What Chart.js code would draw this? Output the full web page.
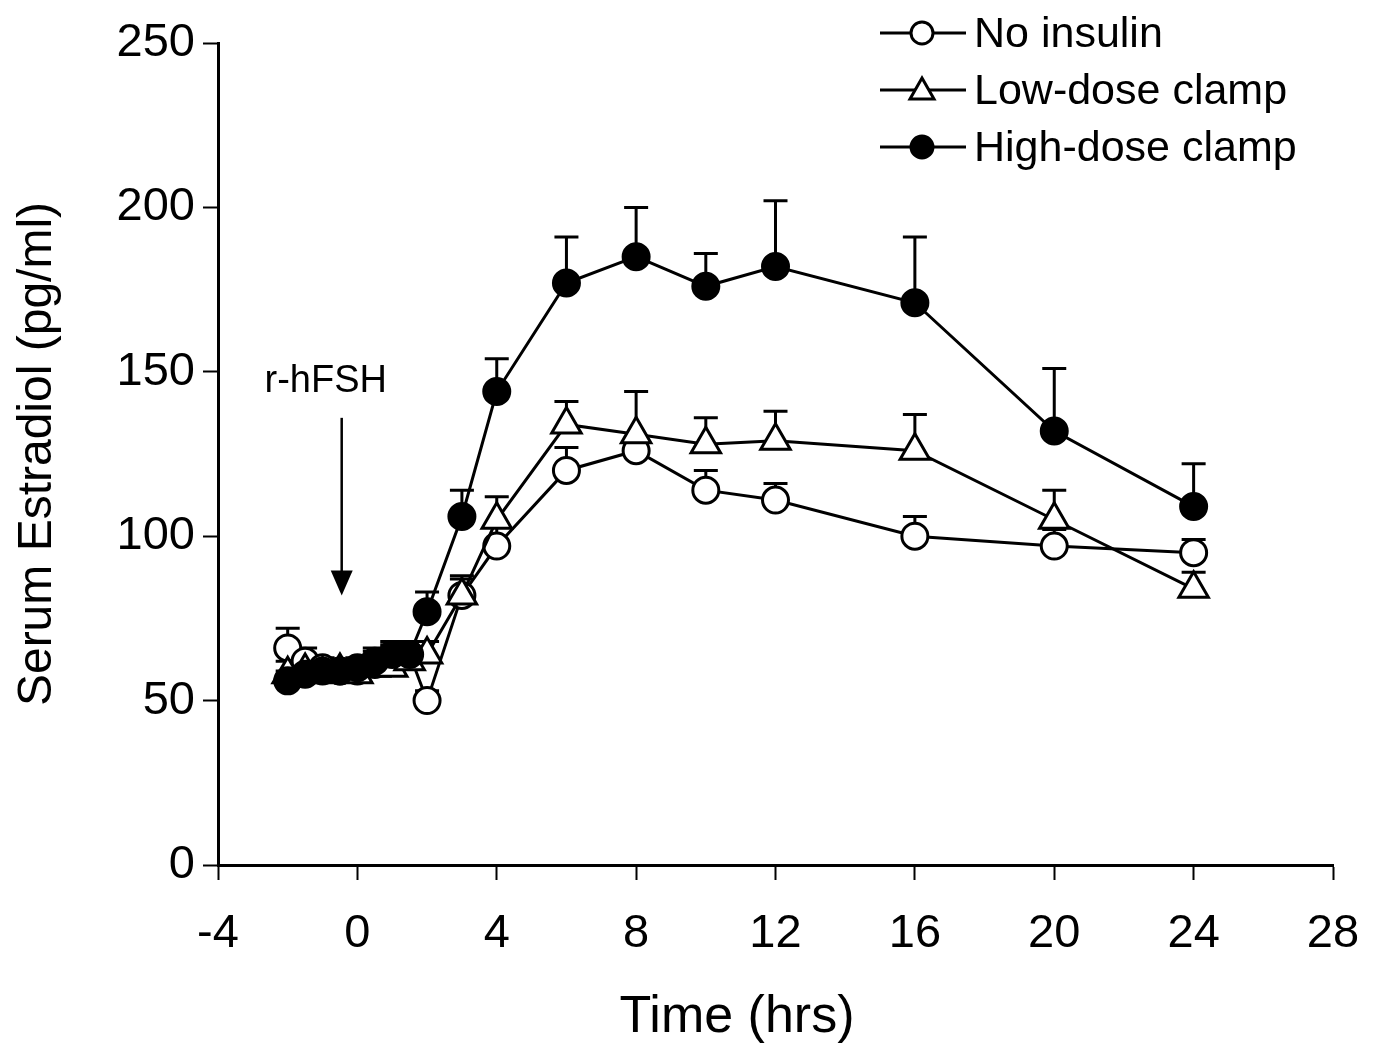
<!DOCTYPE html>
<html>
<head>
<meta charset="utf-8">
<script src="https://cdn.jsdelivr.net/npm/chart.js@4"></script>
<style>
  html, body { margin: 0; padding: 0; background: #fff; }
  #wrap { width: 1374px; height: 1046px; }
</style>
</head>
<body>
<div id="wrap"><canvas id="chart" width="1374" height="1046"></canvas></div>
<script>
// time points (hrs)
const times = [-2, -1.5, -1, -0.5, 0, 0.5, 1, 1.5, 2, 3, 4, 6, 8, 10, 12, 16, 20, 24];

// serum estradiol (pg/ml) and upper SEM bars
const noInsulin    = [66, 62, 60, 59, 59, 61, 63, 64, 50, 82, 97, 120, 126, 114, 111, 100, 97, 95];
const noInsulinErr = [6, 4, 3, 3, 3, 4, 4, 4, 3, 5, 6, 7, 3, 6, 5, 6, 5, 4];
const lowDose      = [58, 59, 58, 59, 58, 60, 60, 62, 64, 82, 105, 134, 131, 128, 129, 126, 105, 84];
const lowDoseErr   = [4, 3, 3, 3, 3, 4, 4, 4, 4, 6, 7, 7, 13, 8, 9, 11, 9, 5];
const highDose     = [56, 58, 59, 59, 60, 62, 64, 64, 77, 106, 144, 177, 185, 176, 182, 171, 132, 109];
const highDoseErr  = [3, 3, 3, 3, 3, 4, 4, 4, 6, 8, 10, 14, 15, 10, 20, 20, 19, 13];

const seriesNames = ['No insulin', 'Low-dose clamp', 'High-dose clamp'];
const xTicks = [-4, 0, 4, 8, 12, 16, 20, 24, 28];

// r-hFSH arrow (data coords)
const arrowX = -0.45, arrowTop = 136, arrowTip = 82;

const FONT = '"Liberation Sans", Arial, Helvetica, sans-serif';

function toPoints(vals) {
    return times.map((t, i) => ({ x: t, y: vals[i] }));
}

// draws upward error bars under the markers
const errorBars = {
    id: 'errorBars',
    beforeDatasetsDraw(chart) {
        const ctx = chart.ctx;
        const y = chart.scales.y;
        ctx.save();
        ctx.strokeStyle = '#000';
        ctx.lineWidth = 3;
        chart.data.datasets.forEach((ds, di) => {
            const meta = chart.getDatasetMeta(di);
            meta.data.forEach((pt, i) => {
                const top = y.getPixelForValue(ds.data[i].y + ds.errs[i]);
                ctx.beginPath();
                ctx.moveTo(pt.x, pt.y);
                ctx.lineTo(pt.x, top);
                ctx.moveTo(pt.x - 12, top);
                ctx.lineTo(pt.x + 12, top);
                ctx.stroke();
            });
        });
        ctx.restore();
    }
};

// legend, x title and the r-hFSH note
const extras = {
    id: 'extras',
    afterDraw(chart) {
        const ctx = chart.ctx;
        const xs = chart.scales.x, ys = chart.scales.y;
        ctx.save();
        ctx.fillStyle = '#000';
        ctx.strokeStyle = '#000';

        // arrow
        const ax = xs.getPixelForValue(arrowX);
        const aTop = ys.getPixelForValue(arrowTop);
        const aTip = ys.getPixelForValue(arrowTip);
        ctx.lineWidth = 2.5;
        ctx.beginPath();
        ctx.moveTo(ax, aTop);
        ctx.lineTo(ax, aTip - 20);
        ctx.stroke();
        ctx.beginPath();
        ctx.moveTo(ax - 11, aTip - 25);
        ctx.lineTo(ax + 11, aTip - 25);
        ctx.lineTo(ax, aTip);
        ctx.closePath();
        ctx.fill();
        ctx.font = '38px ' + FONT;
        ctx.textAlign = 'center';
        ctx.textBaseline = 'middle';
        ctx.fillText('r-hFSH', ax - 16, ys.getPixelForValue(147));

        // x axis title
        ctx.font = '52px ' + FONT;
        ctx.fillText('Time (hrs)', 737, 1018);

        // legend
        const rows = [33, 90, 147];
        ctx.font = '43px ' + FONT;
        ctx.textAlign = 'left';
        chart.data.datasets.forEach((ds, i) => {
            const yy = rows[i];
            ctx.lineWidth = 3;
            ctx.beginPath();
            ctx.moveTo(880, yy);
            ctx.lineTo(966, yy);
            ctx.stroke();
            ctx.fillStyle = ds.pointBackgroundColor;
            ctx.beginPath();
            if (ds.pointStyle === 'triangle') {
                ctx.moveTo(922, yy - 12);
                ctx.lineTo(934, yy + 9);
                ctx.lineTo(910, yy + 9);
                ctx.closePath();
            } else {
                ctx.arc(922, yy, 11, 0, Math.PI * 2);
            }
            ctx.fill();
            ctx.stroke();
            ctx.fillStyle = '#000';
            ctx.fillText(seriesNames[i], 974, yy + 2);
        });
        ctx.restore();
    }
};

const baseSet = {
    borderColor: '#000',
    borderWidth: 3,
    pointBorderColor: '#000',
    pointBorderWidth: 3,
    showLine: true,
    tension: 0
};

new Chart(document.getElementById('chart').getContext('2d'), {
    type: 'scatter',
    data: {
        datasets: [
            Object.assign({}, baseSet, {
                label: seriesNames[0], data: toPoints(noInsulin), errs: noInsulinErr,
                pointStyle: 'circle', pointRadius: 13, pointBackgroundColor: '#fff', order: 2
            }),
            Object.assign({}, baseSet, {
                label: seriesNames[1], data: toPoints(lowDose), errs: lowDoseErr,
                pointStyle: 'triangle', pointRadius: 17, pointBackgroundColor: '#fff', order: 1
            }),
            Object.assign({}, baseSet, {
                label: seriesNames[2], data: toPoints(highDose), errs: highDoseErr,
                pointStyle: 'circle', pointRadius: 13, pointBackgroundColor: '#000', order: 0
            })
        ]
    },
    options: {
        responsive: false,
        animation: false,
        layout: { padding: { top: 43, right: 41, bottom: 0, left: 0 } },
        plugins: {
            legend: { display: false },
            tooltip: { enabled: false }
        },
        scales: {
            x: {
                type: 'linear',
                min: -4, max: 28,
                afterBuildTicks(s) { s.ticks = xTicks.map(v => ({ value: v })); },
                afterFit(s) { s.height = 181; s.paddingLeft = 0; s.paddingRight = 0; },
                border: { display: true, color: '#000', width: 3 },
                grid: { drawOnChartArea: false, drawTicks: true, tickLength: 15, tickWidth: 2, tickColor: '#000' },
                ticks: { color: '#000', font: { family: FONT, size: 47 }, padding: 26, maxRotation: 0 }
            },
            y: {
                min: 0, max: 250,
                afterFit(s) { s.width = 218; s.paddingTop = 0; s.paddingBottom = 0; },
                border: { display: true, color: '#000', width: 3 },
                grid: { drawOnChartArea: false, drawTicks: true, tickLength: 15, tickWidth: 2, tickColor: '#000' },
                ticks: { stepSize: 50, color: '#000', font: { family: FONT, size: 47 }, padding: 8 },
                title: { display: true, text: 'Serum Estradiol (pg/ml)', color: '#000', font: { family: FONT, size: 48 }, padding: { top: 9, bottom: 0 } }
            }
        }
    },
    plugins: [errorBars, extras]
});
</script>
</body>
</html>
